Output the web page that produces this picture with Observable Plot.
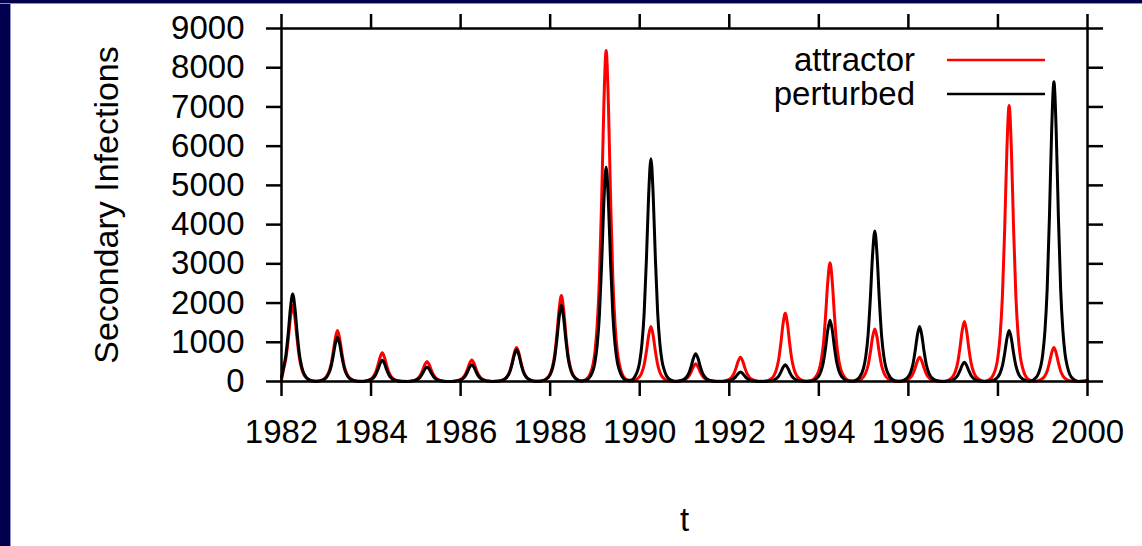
<!DOCTYPE html>
<html>
<head>
<meta charset="utf-8">
<script src="https://cdn.jsdelivr.net/npm/d3@7"></script>
<script src="https://cdn.jsdelivr.net/npm/@observablehq/plot@0.6"></script>
<style>
  html, body { margin: 0; padding: 0; background: #ffffff; }
  #wrap { position: relative; width: 1142px; height: 546px; overflow: hidden; }
  #wrap svg { position: absolute; left: 0; top: 0; }
  .navL { position: absolute; left: 0; top: 0; width: 10px; height: 546px; background: #00004f; border-right: 1px solid #9090c8; z-index: 2; }
  .navT { position: absolute; left: 0; top: 0; width: 1142px; height: 3px; background: #00004f; border-bottom: 1px solid #9090c8; z-index: 2; }
</style>
</head>
<body>
<div id="wrap"><div class="navL"></div><div class="navT"></div></div>
<script>
// Sampling grid: years and offsets within each year (peaks sit near +0.25)
const years = [1982,1983,1984,1985,1986,1987,1988,1989,1990,1991,1992,1993,1994,1995,1996,1997,1998,1999];
const offsets = [0, 0.05, 0.1, 0.15, 0.2, 0.25, 0.3, 0.35, 0.4, 0.45, 0.5, 0.55, 0.6, 0.7, 0.8, 0.9];

// Secondary infections, attractor (red), one row per year at the offsets above
const attractor = [
  [40,330,601,1067,1630,1940,1630,1067,601,330,175,97,49,12,8,33],
  [117,221,403,715,1092,1300,1092,715,403,221,117,65,33,8,4,18],
  [66,124,226,402,613,730,613,402,226,124,66,37,18,4,3,13],
  [46,87,158,281,428,510,428,281,158,87,46,26,13,3,3,14],
  [50,94,171,303,462,550,462,303,171,94,50,28,14,3,5,22],
  [78,148,270,479,731,870,731,479,270,148,78,44,22,5,13,55],
  [197,372,679,1205,1840,2190,1840,1205,679,372,197,110,55,13,51,211],
  [760,1435,2616,4642,7090,8440,7090,4642,2616,1435,760,422,211,51,8,35],
  [126,238,434,770,1176,1400,1176,770,434,238,126,70,35,8,3,11],
  [41,77,140,248,378,450,378,248,140,77,41,23,11,3,4,16],
  [56,105,192,341,521,620,521,341,192,105,56,31,16,4,10,44],
  [157,296,539,957,1462,1740,1462,957,539,296,157,87,44,10,18,76],
  [273,515,939,1667,2545,3030,2545,1667,939,515,273,152,76,18,8,34],
  [121,228,415,737,1126,1340,1126,737,415,228,121,67,34,8,4,16],
  [56,105,192,341,521,620,521,341,192,105,56,31,16,4,9,38],
  [138,260,474,842,1285,1530,1285,842,474,260,138,77,38,9,42,176],
  [634,1197,2182,3872,5914,7040,5914,3872,2182,1197,634,352,176,42,5,22],
  [78,148,270,479,731,870,731,479,270,148,78,44,22,5,1,3]
];
const attractorEnd = 9;

// Secondary infections, perturbed (black)
const perturbed = [
  [110,379,691,1227,1873,2230,1873,1227,691,379,201,112,56,13,7,28],
  [102,192,350,622,949,1130,949,622,350,192,102,57,28,7,3,14],
  [49,92,167,297,454,540,454,297,167,92,49,27,14,3,2,9],
  [33,63,115,204,311,370,311,204,115,63,33,19,9,2,3,11],
  [39,73,133,237,361,430,361,237,133,73,39,22,11,3,5,20],
  [73,138,251,446,680,810,680,446,251,138,73,41,20,5,12,49],
  [175,330,601,1067,1630,1940,1630,1067,601,330,175,97,49,12,33,137],
  [492,930,1696,3009,4595,5470,4595,3009,1696,930,492,274,137,33,34,142],
  [511,966,1761,3124,4771,5680,4771,3124,1761,966,511,284,142,34,4,18],
  [64,121,220,391,596,710,596,391,220,121,64,36,18,4,1,6],
  [22,41,74,132,202,240,202,132,74,41,22,12,6,1,3,11],
  [38,72,132,234,357,425,357,234,132,72,38,21,11,3,9,39],
  [140,265,484,858,1310,1560,1310,858,484,265,140,78,39,9,23,96],
  [346,653,1190,2112,3226,3840,3226,2112,1190,653,346,192,96,23,8,35],
  [126,238,434,770,1176,1400,1176,770,434,238,126,70,35,8,3,12],
  [44,83,152,270,412,490,412,270,152,83,44,25,12,3,8,33],
  [117,221,403,715,1092,1300,1092,715,403,221,117,65,33,8,46,191],
  [688,1299,2368,4202,6418,7640,6418,4202,2368,1299,688,382,191,46,2,10]
];
const perturbedEnd = 36;

const xTicks = [1982,1984,1986,1988,1990,1992,1994,1996,1998,2000];
const yTicks = [0,1000,2000,3000,4000,5000,6000,7000,8000,9000];
const seriesNames = ["attractor", "perturbed"];
const seriesColors = ["#ff0000", "#000000"];
const xTitle = "t";
const yTitle = "Secondary Infections";

// Build tidy table
const rows = [];
[[attractor, attractorEnd], [perturbed, perturbedEnd]].forEach(([vals, endVal], s) => {
  years.forEach((yr, i) => {
    offsets.forEach((o, j) => rows.push({series: seriesNames[s], t: yr + o, v: vals[i][j]}));
  });
  rows.push({series: seriesNames[s], t: 2000, v: endVal});
});

const FONT = "'Liberation Sans', Arial, Helvetica, sans-serif";
const fmt = d3.format("d");

const plot = Plot.plot({
  width: 1142,
  height: 546,
  marginLeft: 281,
  marginRight: 55,
  marginTop: 28,
  marginBottom: 165,
  style: {fontFamily: FONT, fontSize: "33px", background: "#ffffff", overflow: "visible"},
  x: {domain: [1982, 2000]},
  y: {domain: [0, 9000]},
  color: {domain: seriesNames, range: seriesColors},
  marks: [
    Plot.line(rows, {x: "t", y: "v", z: "series", stroke: "series", strokeWidth: 3, strokeLinejoin: "round", curve: "monotone-x"}),
    Plot.frame({stroke: "#000", strokeWidth: 2.5}),
    Plot.axisX({anchor: "bottom", ticks: xTicks, tickSize: 15, tickPadding: 23, tickFormat: fmt, fontSize: 33, strokeWidth: 2.5, label: null}),
    Plot.axisX({anchor: "top", ticks: xTicks, tickSize: 15, tickFormat: () => "", strokeWidth: 2.5, label: null}),
    Plot.axisY({anchor: "left", ticks: yTicks, tickSize: 15, tickPadding: 22, tickFormat: fmt, fontSize: 33, strokeWidth: 2.5, label: null}),
    Plot.axisY({anchor: "right", ticks: yTicks, tickSize: 15, tickFormat: () => "", strokeWidth: 2.5, label: null}),
    Plot.text([yTitle], {text: d => d, frameAnchor: "left", textAnchor: "middle", lineAnchor: "middle", rotate: -90, dx: -174, fontSize: 34}),
    Plot.text([xTitle], {text: d => d, frameAnchor: "bottom", textAnchor: "middle", lineAnchor: "middle", dy: 139, fontSize: 33})
  ]
});

// Key (inside plot, top-right)
const key = d3.select(plot).append("g")
  .attr("font-family", FONT)
  .attr("font-size", 33);
const keyLineY = [60, 94];
seriesNames.forEach((name, i) => {
  key.append("text")
    .attr("x", 915)
    .attr("y", keyLineY[i] + 11)
    .attr("text-anchor", "end")
    .attr("fill", "#000")
    .text(name);
  key.append("line")
    .attr("x1", 947).attr("x2", 1045)
    .attr("y1", keyLineY[i]).attr("y2", keyLineY[i])
    .attr("stroke", seriesColors[i])
    .attr("stroke-width", 2.5);
});

const wrap = document.getElementById("wrap");
wrap.insertBefore(plot, wrap.firstChild);
</script>
</body>
</html>
